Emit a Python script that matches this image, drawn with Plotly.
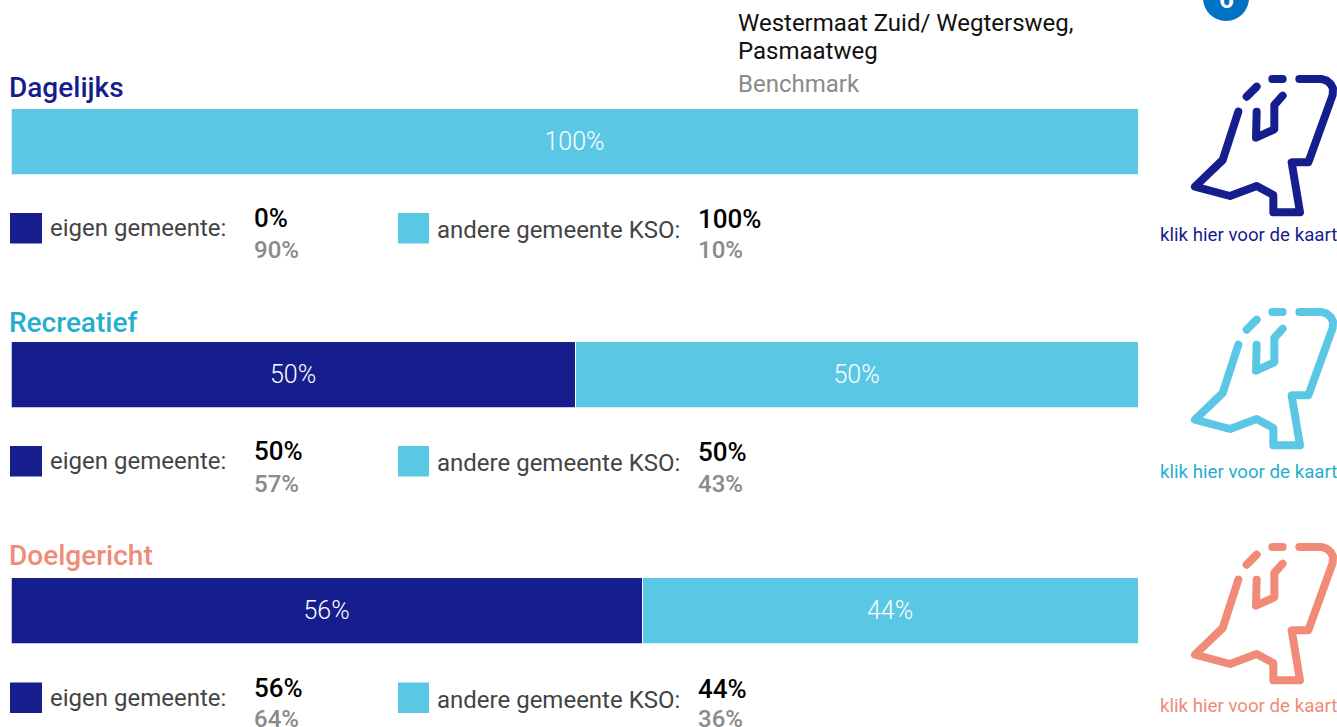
import plotly.graph_objects as go

W, H = 1337, 727
categories = ["Dagelijks", "Recreatief", "Doelgericht"]
eigen = [0, 50, 56]
andere = [100, 50, 44]
bench_eigen = [90, 57, 64]
bench_andere = [10, 43, 36]
label_eigen = "eigen gemeente:"
label_andere = "andere gemeente KSO:"
link_text = "klik hier voor de kaart"
location_lines = ["Westermaat Zuid/ Wegtersweg,", "Pasmaatweg"]
benchmark = "Benchmark"

NAVY = "#151e8c"
SKY = "#5ac8e4"
title_colors = [NAVY, "#27aece", "#f08b78"]
icon_colors = [NAVY, SKY, "#f08b78"]
link_colors = [NAVY, "#27aece", "#f08b78"]

bar_tops = [109, 342, 578]
bar_h = 65.5
title_y = [87, 322, 555]
row_y = [229, 462, 698.5]
bench_off = [21, 22, 20.5]
icon_dy = [0, 233, 468]
link_y = [235, 472, 706]
x0, x1 = 11.5, 1138.5


def px(x):
    return x / W


def py(y):
    return 1 - y / H


def note(x, y, text, size, color, weight=400, anchor="left"):
    return dict(xref="paper", yref="paper", x=px(x), y=py(y), text=text, showarrow=False,
                xanchor=anchor, yanchor="middle", align="left",
                font=dict(family="Roboto", size=size, color=color, weight=weight))


fig = go.Figure()
layout = dict(width=W, height=H, margin=dict(l=0, r=0, t=0, b=0), autosize=False,
              paper_bgcolor="white", plot_bgcolor="white", barmode="stack", bargap=0,
              showlegend=False, hovermode=False)
notes, shapes = [], []

for i, cat in enumerate(categories):
    ax = "" if i == 0 else str(i + 1)
    for val, col in ((eigen[i], NAVY), (andere[i], SKY)):
        fig.add_trace(go.Bar(
            x=[val], y=[cat], orientation="h", xaxis="x" + ax, yaxis="y" + ax,
            marker=dict(color=col, line=dict(color="white", width=1 if val else 0)),
            text=[f"{val}%" if val else ""], textposition="inside", insidetextanchor="middle",
            textangle=0, constraintext="none",
            textfont=dict(family="Roboto", size=25, color="white", weight=300)))
    layout["xaxis" + ax] = dict(domain=[px(x0), px(x1)], range=[0, 100], visible=False,
                                anchor="y" + ax, fixedrange=True)
    layout["yaxis" + ax] = dict(domain=[py(bar_tops[i] + bar_h), py(bar_tops[i])], visible=False,
                                anchor="x" + ax, fixedrange=True)

    notes.append(note(7, title_y[i], cat, 28, title_colors[i], 500))
    y = row_y[i]
    shapes.append(dict(type="rect", xref="paper", yref="paper", x0=px(10), x1=px(42),
                       y0=py(y + 14.5), y1=py(y - 16), fillcolor=NAVY, line_width=0))
    shapes.append(dict(type="rect", xref="paper", yref="paper", x0=px(398), x1=px(429),
                       y0=py(y + 14.5), y1=py(y - 16), fillcolor=SKY, line_width=0))
    notes.append(note(48, y - 1, label_eigen, 24, "#444444"))
    notes.append(note(434.5, y + 1, label_andere, 24, "#444444"))
    notes.append(note(252, y - 11, f"{eigen[i]}%", 26, "#000000", 500))
    notes.append(note(252, y + bench_off[i], f"{bench_eigen[i]}%", 24, "#8a8a8a", 500))
    notes.append(note(696, y - 10, f"{andere[i]}%", 26, "#000000", 500))
    notes.append(note(696, y + bench_off[i], f"{bench_andere[i]}%", 24, "#8a8a8a", 500))
    notes.append(note(1339, link_y[i], link_text, 18.7, link_colors[i], 400, "right"))

    # Netherlands outline icon
    dy = icon_dy[i]
    strokes = [
        [(295, 335), (248, 480), (165, 560), (270, 588), (350, 558), (400, 585), (400, 637),
         (480, 637), (455, 487), (505, 487), (578, 285), (579, 265), (572, 252), (560, 242),
         (545, 237), (478, 237)],
        [(350, 335), (348, 413), (403, 388), (403, 315), (428, 287)],
        [(320, 290), (350, 260)],
        [(397, 237), (428, 237)],
    ]
    for s in strokes:
        path = "M " + " L ".join(f"{px(1140 + a / 3):.5f},{py(b / 3 + dy):.5f}" for a, b in s)
        shapes.append(dict(type="path", xref="paper", yref="paper", path=path,
                           line=dict(color=icon_colors[i], width=8), layer="above"))

notes.append(note(736, 23, location_lines[0], 24, "#111111"))
notes.append(note(736, 51, location_lines[1], 24, "#111111"))
notes.append(note(736, 84, benchmark, 24, "#8a8a8a"))
notes.append(note(1226, -1, "6", 26, "white", 700, "center"))
shapes.append(dict(type="circle", xref="paper", yref="paper", x0=px(1203), x1=px(1249),
                   y0=py(21), y1=py(-25), fillcolor="#0072c3", line_width=0))

layout["annotations"] = notes
layout["shapes"] = shapes
fig.update_layout(**layout)
fig.write_html("out.html", config=dict(displayModeBar=False),
               post_script="document.body.style.margin='0';"
                           "document.querySelectorAll('.shapelayer path').forEach(function(p){"
                           "p.style.strokeLinecap='round';p.style.strokeLinejoin='round';});")
